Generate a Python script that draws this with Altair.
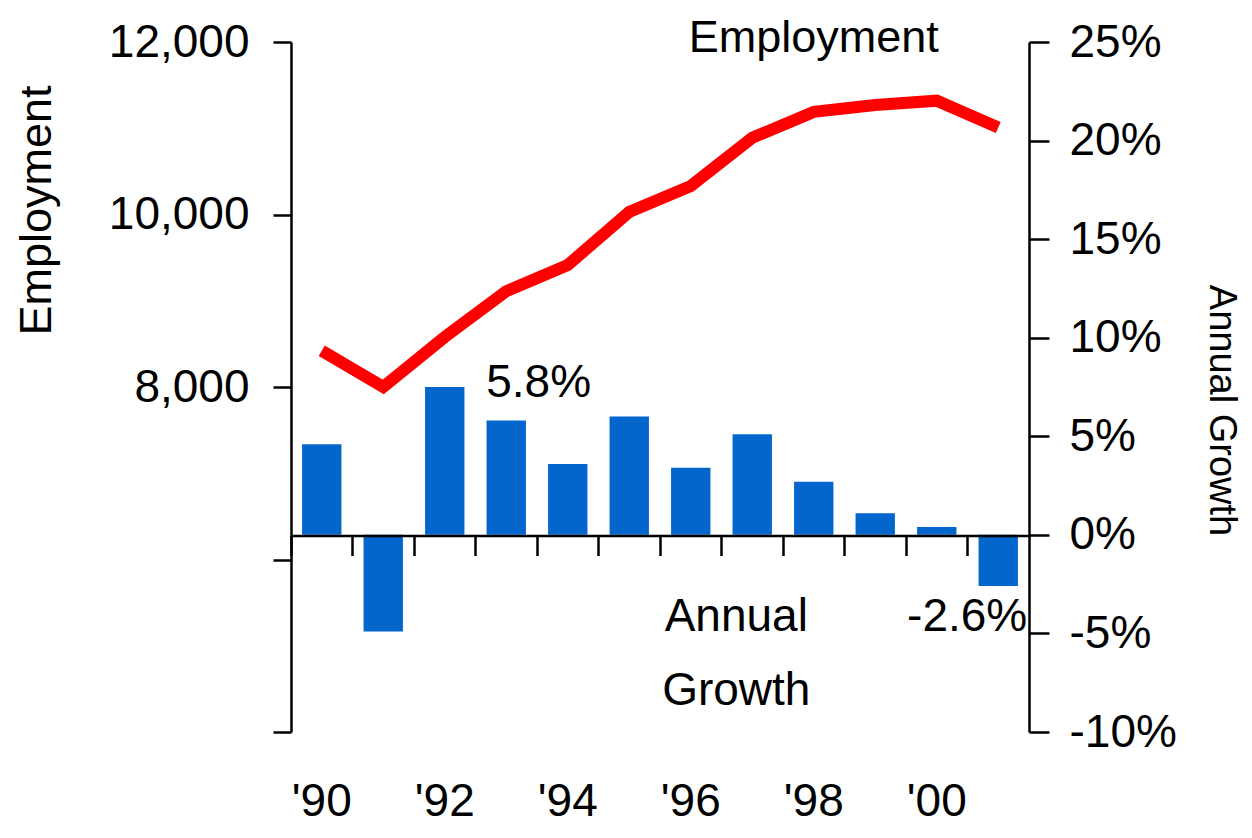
import altair as alt
import pandas as pd

years = ["1990", "1991", "1992", "1993", "1994", "1995", "1996", "1997", "1998", "1999", "2000", "2001"]
employment = [8420, 8000, 8580, 9110, 9414, 10030, 10330, 10890, 11190, 11270, 11320, 11010]
growth = [4.6, -4.9, 7.5, 5.8, 3.6, 6.0, 3.4, 5.1, 2.7, 1.1, 0.4, -2.6]

emp_ticks = [4000, 6000, 8000, 10000, 12000]
growth_ticks = [-10, -5, 0, 5, 10, 15, 20, 25]

ann_text = ["Employment", "5.8%", "Annual\nGrowth", "-2.6%"]
ann_year = ["1998", "1993", "1997", "2001"]
ann_growth = [24.5, 7.0, -4.9, -4.9]

df = pd.DataFrame({"year": years, "employment": employment, "growth": growth})

REG = "Liberation Sans, Arial, Helvetica, sans-serif"

xscale = alt.Scale(paddingInner=0, paddingOuter=0)
gscale = alt.Scale(domain=[-10, 25], nice=False, zero=False)
escale = alt.Scale(domain=[4000, 12000], nice=False, zero=False)

bars = alt.Chart(df).mark_bar(color="#0366CC", width=alt.RelativeBandSize(0.64)).encode(
    x=alt.X("year:O", scale=xscale, axis=alt.Axis(
        orient="bottom", offset=-196.5, bandPosition=0, labels=False, title=None,
        domain=True, domainColor="black", domainWidth=2.5,
        ticks=True, tickColor="black", tickWidth=2.5, tickSize=20, zindex=2)),
    y=alt.Y("growth:Q", scale=gscale, axis=alt.Axis(
        orient="right", values=growth_ticks, labelExpr="datum.value + '%'",
        grid=False, domainColor="black", domainWidth=2.5,
        tickColor="black", tickWidth=2.5, tickSize=20,
        labelFont=REG, labelFontSize=46, labelColor="black", labelPadding=20,
        labelOverlap=False, labelBaseline="middle",
        title="Annual Growth", titleFont=REG, titleFontSize=38, titleFontWeight="normal",
        titleColor="black", titleAngle=90, titleAlign="center", titleBaseline="alphabetic",
        titleX=180, titleY=368)),
)

line = alt.Chart(df).mark_line(color="#FF0000", strokeWidth=12, strokeJoin="miter", strokeCap="butt").encode(
    x=alt.X("year:O", scale=xscale, axis=alt.Axis(
        orient="bottom", domain=False, ticks=False, title=None,
        labelExpr="toNumber(datum.value) % 2 == 0 ? \"'\" + substring(datum.value, 2) : ''",
        labelFont=REG, labelFontSize=46, labelColor="black", labelPadding=83,
        labelAngle=0, labelBaseline="alphabetic")),
    y=alt.Y("employment:Q", scale=escale, axis=alt.Axis(
        orient="left", values=emp_ticks,
        labelExpr="datum.value >= 8000 ? format(datum.value, ',') : ''",
        grid=False, domainColor="black", domainWidth=2.5,
        tickColor="black", tickWidth=2.5, tickSize=18,
        labelFont=REG, labelFontSize=46, labelColor="black", labelPadding=24,
        labelOverlap=False, labelBaseline="middle",
        title="Employment", titleFont=REG, titleFontSize=45, titleFontWeight="normal",
        titleColor="black", titleAngle=-90, titleAlign="center", titleBaseline="alphabetic",
        titleX=-241, titleY=168)),
)

def ann(i, size, align, dx, line_height=None):
    d = pd.DataFrame({"text": [ann_text[i]], "year": [ann_year[i]], "growth": [ann_growth[i]]})
    kw = dict(font=REG, fontSize=size, align=align, baseline="alphabetic", dx=dx, color="black")
    if "\n" in ann_text[i]:
        kw["lineBreak"] = "\n"
        kw["lineHeight"] = line_height
    return alt.Chart(d).mark_text(**kw).encode(
        x=alt.X("year:O", scale=xscale, axis=None),
        y=alt.Y("growth:Q", scale=gscale, axis=None),
        text="text:N",
    )

t_emp = ann(0, 45, "center", 0)
t_58 = ann(1, 46, "left", -20)
t_ag = ann(2, 46, "center", -16, 74)
t_26 = ann(3, 46, "right", 29)

chart = alt.layer(bars, line, t_emp, t_58, t_ag, t_26).resolve_scale(
    y="independent"
).resolve_axis(
    x="independent", y="independent"
).properties(
    width=738, height=690,
    padding={"left": 283, "top": 34, "right": 214, "bottom": 95},
    autosize=alt.AutoSizeParams(type="none"),
    background="white",
).configure_view(stroke=None)

chart.save("out.html", embed_options={"renderer": "svg", "actions": False})
